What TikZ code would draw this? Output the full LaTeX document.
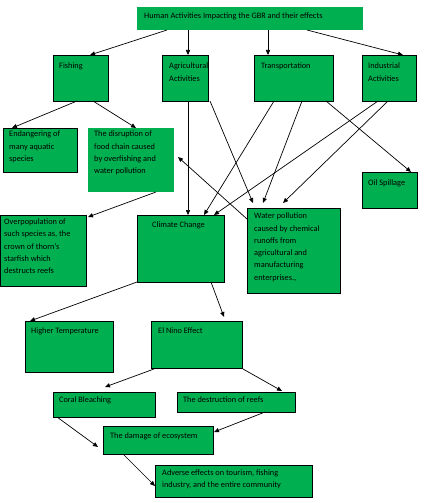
\documentclass[tikz,border=0pt]{standalone}
\usepackage{fontspec}
\setmainfont{Carlito}
\usetikzlibrary{arrows.meta}
\definecolor{offgreen}{HTML}{00B050}
\tikzset{
  box/.style={fill=offgreen, draw=black, line width=0.8pt, anchor=north west, inner sep=0pt},
  nbox/.style={fill=offgreen, anchor=north west, inner sep=0pt},
  txt/.style={anchor=north west, inner sep=0pt, align=left, font=\fontsize{8.3}{12.3}\selectfont, execute at begin node=\strut},
  wtxt/.style={anchor=north west, inner sep=0pt, align=left, font=\fontsize{8.3}{13.3}\selectfont},
  arr/.style={-{Triangle[length=5pt,width=4.2pt]}, line width=0.7pt}
}
\begin{document}
\begin{tikzpicture}[x=1pt,y=-1pt]
\useasboundingbox (0,0) rectangle (424,503);
% boxes
\node[nbox, minimum width=226pt, minimum height=23pt] (top) at (137,7) {};
\node[box, minimum width=55pt, minimum height=46pt] (fish) at (53,55) {};
\node[box, minimum width=46pt, minimum height=46pt] (agri) at (162,55) {};
\node[box, minimum width=79pt, minimum height=46pt] (trans) at (254,55) {};
\node[box, minimum width=54pt, minimum height=46pt] (ind) at (362,55) {};
\node[box, minimum width=74pt, minimum height=44pt] (end) at (3,128) {};
\node[nbox, minimum width=86pt, minimum height=64pt] (dis) at (88,128) {};
\node[box, minimum width=55pt, minimum height=36pt] (oil) at (362,172) {};
\node[box, minimum width=86pt, minimum height=71pt] (over) at (0,215) {};
\node[box, minimum width=87pt, minimum height=67pt] (clim) at (137,215) {};
\node[box, minimum width=93pt, minimum height=85pt] (water) at (247,208) {};
\node[box, minimum width=88pt, minimum height=51pt] (high) at (25,321) {};
\node[box, minimum width=91pt, minimum height=47pt] (nino) at (151,321) {};
\node[box, minimum width=102pt, minimum height=25pt] (coral) at (53,392) {};
\node[box, minimum width=118pt, minimum height=20pt] (destr) at (177,392) {};
\node[box, minimum width=110pt, minimum height=28pt] (dam) at (103,426) {};
\node[box, minimum width=157pt, minimum height=32pt] (adv) at (155,465) {};
% texts
\node[txt] (ttop) at (144,10) {Human Activities Impacting the GBR and their effects};
\node[txt] (tfish) at (59,59.5) {Fishing};
\node[wtxt] (tagri) at (169,58.8) {\strut Agricultural\\Activities};
\node[txt] (ttrans) at (261,59.5) {Transportation};
\node[wtxt] (tind) at (368,58.8) {\strut Industrial\\Activities};
\node[txt] (tend) at (9,131) {Endangering of\\many aquatic\\species};
\node[txt] (tdis) at (94,131) {The disruption of\\food chain caused\\by overfishing and\\water pollution};
\node[txt] (toil) at (368,176.5) {Oil Spillage};
\node[txt] (tover) at (4,218.5) {Overpopulation of\\such species as, the\\crown of thorn's\\starfish which\\destructs reefs};
\node[txt] (tclim) at (152,219) {Climate Change};
\node[txt] (twater) at (254,212.8) {Water pollution\\caused by chemical\\runoffs from\\agricultural and\\manufacturing\\enterprises.,};
\node[txt] (thigh) at (31,324.5) {Higher Temperature};
\node[txt] (tnino) at (158,324.5) {El Nino Effect};
\node[txt] (tcoral) at (59,393.5) {Coral Bleaching};
\node[txt] (tdestr) at (183,393.5) {The destruction of reefs};
\node[txt] (tdam) at (110,429.5) {The damage of ecosystem};
\node[txt] (tadv) at (162,469.5) {Adverse effects on tourism, fishing\\industry, and the entire community};
% connectors
\draw[arr] ([shift={(30,23)}]top.north west) -- ([shift={(37,0)}]fish.north west);
\draw[arr] ([shift={(51,23)}]top.north west) -- ([shift={(26,0)}]agri.north west);
\draw[arr] ([shift={(131,23)}]top.north west) -- ([shift={(14,0)}]trans.north west);
\draw[arr] ([shift={(170,23)}]top.north west) -- ([shift={(41,0)}]ind.north west);
\draw[arr] ([shift={(24,46)}]fish.north west) -- ([shift={(9,0)}]end.north west);
\draw[arr] ([shift={(40,46)}]fish.north west) -- ([shift={(48,0)}]dis.north west);
\draw[arr] ([shift={(26,46)}]agri.north west) -- ([shift={(51,0)}]clim.north west);
\draw[arr] ([shift={(48,46)}]agri.north west) -- ([shift={(6,-5)}]water.north west);
\draw[arr] ([shift={(20,46)}]trans.north west) -- ([shift={(67,0)}]clim.north west);
\draw[arr] ([shift={(48,46)}]trans.north west) -- ([shift={(16,-5)}]water.north west);
\draw[arr] ([shift={(72,46)}]trans.north west) -- ([shift={(49,0)}]oil.north west);
\draw[arr] ([shift={(16,46)}]ind.north west) -- ([shift={(77,0)}]clim.north west);
\draw[arr] ([shift={(26,46)}]ind.north west) -- ([shift={(36,-5)}]water.north west);
\draw[arr] ([shift={(0,11)}]water.north west) -- ([shift={(90,29)}]dis.north west);
\draw[arr] ([shift={(68,64)}]dis.north west) -- ([shift={(88,2)}]over.north west);
\draw[arr] ([shift={(0,67)}]clim.north west) -- ([shift={(5,0)}]high.north west);
\draw[arr] ([shift={(74,67)}]clim.north west) -- ([shift={(73,-4)}]nino.north west);
\draw[arr] ([shift={(3,48)}]nino.north west) -- ([shift={(52,-5)}]coral.north west);
\draw[arr] ([shift={(92,48)}]nino.north west) -- ([shift={(105,-1)}]destr.north west);
\draw[arr] ([shift={(4,25)}]coral.north west) -- ([shift={(-5,21)}]dam.north west);
\draw[arr] ([shift={(88,20)}]destr.north west) -- ([shift={(111,6)}]dam.north west);
\draw[arr] ([shift={(20,28)}]dam.north west) -- ([shift={(0,21)}]adv.north west);
\end{tikzpicture}
\end{document}
